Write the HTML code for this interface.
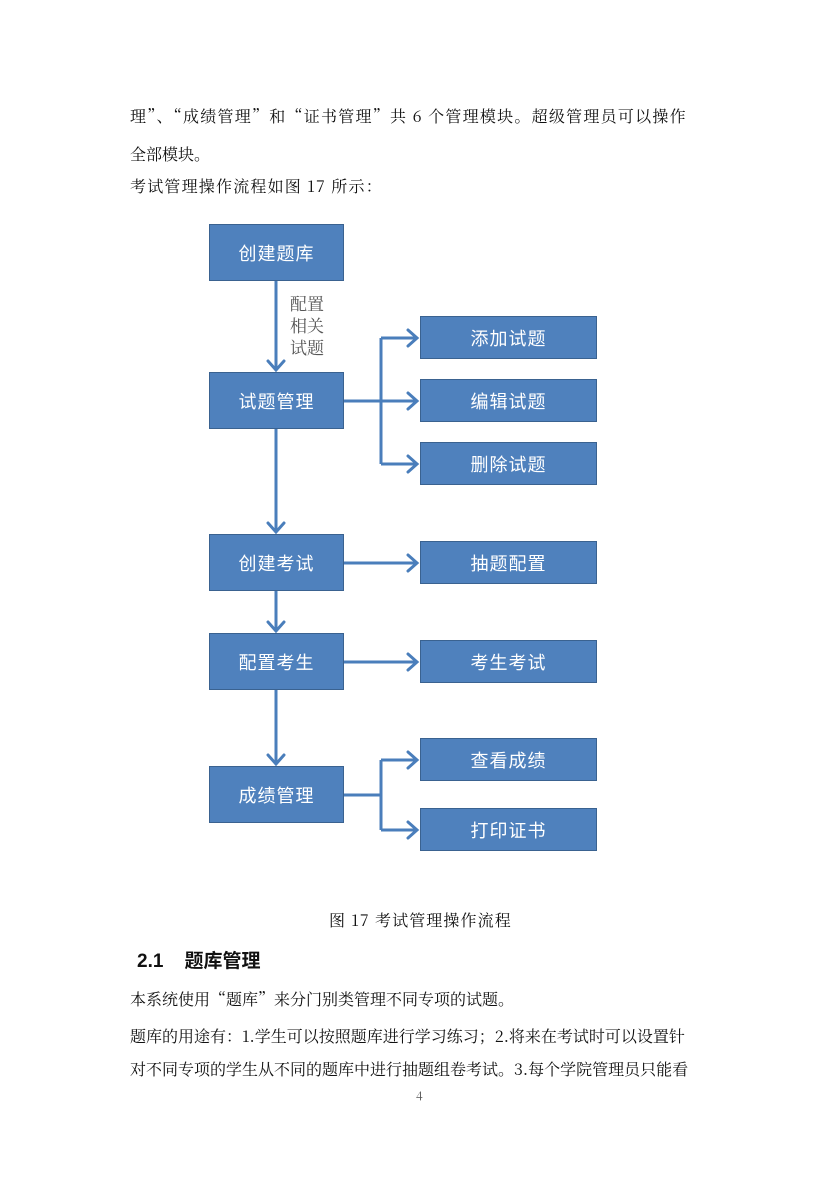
<!DOCTYPE html>
<html><head><meta charset="utf-8"><style>
body{margin:0;width:840px;height:1188px;background:#fff;position:relative;font-family:"Noto Serif CJK SC","Liberation Serif",serif;color:#111;overflow:hidden}
.t{position:absolute;font-size:16px;white-space:nowrap;line-height:20px}
.b{position:absolute;background:#4f81bd;border:1.5px solid #3a6290;box-sizing:border-box;color:#fff;font-family:"Liberation Sans","Noto Sans CJK SC",sans-serif;font-size:18px;display:flex;align-items:center;justify-content:center;letter-spacing:1px}
</style></head><body>
<div class="t" style="left:130px;top:106px;letter-spacing:1.25px">理”、“成绩管理”和“证书管理”共 6 个管理模块。超级管理员可以操作</div>
<div class="t" style="left:130px;top:144px">全部模块。</div>
<div class="t" style="left:130px;top:176px;letter-spacing:1.2px">考试管理操作流程如图 17 所示：</div>

<svg style="position:absolute;left:0;top:0" width="840" height="1188">
<g stroke="#4a7ebb" stroke-width="3" fill="none">
<line x1="276" y1="281" x2="276" y2="370"/>
<line x1="276" y1="429" x2="276" y2="532"/>
<line x1="276" y1="591" x2="276" y2="631"/>
<line x1="276" y1="690" x2="276" y2="764"/>
<line x1="344" y1="401" x2="416" y2="401"/>
<line x1="381" y1="338" x2="381" y2="464"/>
<line x1="381" y1="338" x2="416" y2="338"/>
<line x1="381" y1="464" x2="416" y2="464"/>
<line x1="344" y1="563" x2="416" y2="563"/>
<line x1="344" y1="662" x2="416" y2="662"/>
<line x1="344" y1="795" x2="381" y2="795"/>
<line x1="381" y1="760" x2="381" y2="830"/>
<line x1="381" y1="760" x2="416" y2="760"/>
<line x1="381" y1="830" x2="416" y2="830"/>
<g stroke-linecap="round">
<polyline points="268,361 276,370 284,361"/>
<polyline points="268,523 276,532 284,523"/>
<polyline points="268,622 276,631 284,622"/>
<polyline points="268,755 276,764 284,755"/>
<polyline points="408,330 417,338 408,346"/>
<polyline points="408,393 417,401 408,409"/>
<polyline points="408,456 417,464 408,472"/>
<polyline points="408,555 417,563 408,571"/>
<polyline points="408,654 417,662 408,670"/>
<polyline points="408,752 417,760 408,768"/>
<polyline points="408,822 417,830 408,838"/>
</g></g>
</svg>
<div class="t" style="left:290px;top:292px;font-size:17px;line-height:22px;color:#555">配置<br>相关<br>试题</div>

<div class="b" style="left:209px;top:224px;width:135px;height:57px">创建题库</div>
<div class="b" style="left:209px;top:372px;width:135px;height:57px">试题管理</div>
<div class="b" style="left:209px;top:534px;width:135px;height:57px">创建考试</div>
<div class="b" style="left:209px;top:633px;width:135px;height:57px">配置考生</div>
<div class="b" style="left:209px;top:766px;width:135px;height:57px">成绩管理</div>
<div class="b" style="left:420px;top:316px;width:177px;height:43px">添加试题</div>
<div class="b" style="left:420px;top:379px;width:177px;height:43px">编辑试题</div>
<div class="b" style="left:420px;top:442px;width:177px;height:43px">删除试题</div>
<div class="b" style="left:420px;top:541px;width:177px;height:43px">抽题配置</div>
<div class="b" style="left:420px;top:640px;width:177px;height:43px">考生考试</div>
<div class="b" style="left:420px;top:738px;width:177px;height:43px">查看成绩</div>
<div class="b" style="left:420px;top:808px;width:177px;height:43px">打印证书</div>

<div class="t" style="left:329px;top:910px;letter-spacing:1.1px">图 17 考试管理操作流程</div>
<div class="t" style="left:137px;top:950px;font-size:19px;font-weight:bold;line-height:24px;font-family:'Liberation Sans','Noto Sans CJK SC',sans-serif">2.1&nbsp;&nbsp;&nbsp;&nbsp;题库管理</div>
<div class="t" style="left:130px;top:989px">本系统使用“题库”来分门别类管理不同专项的试题。</div>
<div class="t" style="left:130px;top:1026px">题库的用途有：1.学生可以按照题库进行学习练习；2.将来在考试时可以设置针</div>
<div class="t" style="left:130px;top:1059px">对不同专项的学生从不同的题库中进行抽题组卷考试。3.每个学院管理员只能看</div>
<div class="t" style="left:416px;top:1086px;font-size:12px;color:#555">4</div>
</body></html>
